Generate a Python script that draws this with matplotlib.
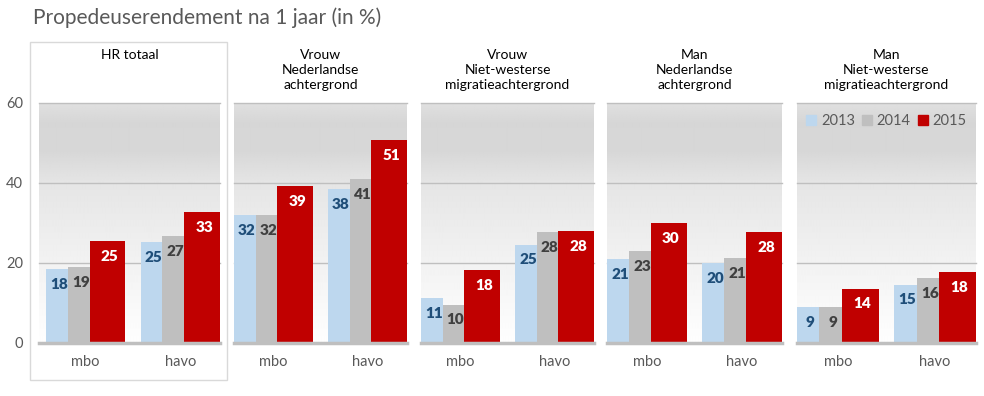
import matplotlib
matplotlib.use("Agg")
import matplotlib.pyplot as plt
import numpy as np

plt.rcParams["font.family"] = ["Lato", "DejaVu Sans"]

# data (percentages)
categories = ["mbo", "havo"]
years = ["2013", "2014", "2015"]
panel_titles = [
    "HR totaal",
    "Vrouw\nNederlandse\nachtergrond",
    "Vrouw\nNiet-westerse\nmigratieachtergrond",
    "Man\nNederlandse\nachtergrond",
    "Man\nNiet-westerse\nmigratieachtergrond",
]
values_2013 = [[18.4, 25.2], [32.0, 38.4], [11.2, 24.6], [21.0, 20.0], [9.0, 14.6]]
values_2014 = [[19.0, 26.8], [32.0, 41.0], [9.6, 27.8], [23.0, 21.2], [9.0, 16.2]]
values_2015 = [[25.4, 32.8], [39.2, 50.8], [18.2, 28.0], [30.0, 27.8], [13.6, 17.8]]
yticks = [0, 20, 40, 60]

colors = ["#BDD7EE", "#BFBFBF", "#C00000"]
label_colors = ["#1F4E79", "#404040", "#FFFFFF"]
# bar extents relative to the category centre
bar_left = [-0.42, -0.19, 0.04]
bar_width = [0.23, 0.23, 0.38]

W, H = 984, 396
fig = plt.figure(figsize=(W / 100, H / 100), dpi=100)

# panel pixel extents (left, right)
panels_px = [(39, 220), (234, 407), (421, 594), (607, 782), (797, 976)]
top_px, bottom_px = 103, 343

# vertical background gradient
grad_y = np.linspace(0, 60, 240)
grad_v = np.interp(grad_y, [0, 20, 40, 48, 55, 60], [254, 242, 229, 215, 214, 224]) / 255.0
grad = np.repeat(grad_v[::-1, None], 2, axis=1)

series = [values_2013, values_2014, values_2015]
x = np.arange(len(categories))

for p, (l, r) in enumerate(panels_px):
    ax = fig.add_axes([l / W, 1 - bottom_px / H, (r - l) / W, (bottom_px - top_px) / H])
    x0 = -0.42 - (7 / 94 if p == 0 else 0)
    ax.set_xlim(x0, 1.42)
    ax.set_ylim(0, 60)
    ax.imshow(grad, extent=[x0, 1.42, 0, 60], aspect="auto", cmap="gray",
              vmin=0, vmax=1, zorder=0, interpolation="bilinear")
    for yv in yticks[1:]:
        ax.axhline(yv, color="#BFBFBF", lw=1, zorder=1, clip_on=False)
    for s in range(3):
        vals = series[s][p]
        bars = ax.bar(x + bar_left[s], vals, width=bar_width[s], align="edge",
                      color=colors[s], zorder=2, linewidth=0)
        for b, v in zip(bars, vals):
            ax.annotate(f"{v:.0f}", (b.get_x() + b.get_width() / 2, v),
                        xytext=(1.5, -11), textcoords="offset points",
                        ha="center", va="center", fontsize=11, fontweight="heavy",
                        color=label_colors[s], zorder=3)
    ax.axhline(0, color="#BFBFBF", lw=2.5, zorder=4, clip_on=False)
    for sp in ax.spines.values():
        sp.set_visible(False)
    ax.set_xticks(x)
    ax.set_xticklabels(categories, fontsize=10.5, color="#595959")
    ax.tick_params(axis="x", length=0, pad=9)
    if p == 0:
        ax.set_yticks(yticks)
        ax.tick_params(axis="y", length=0, pad=11.5, labelsize=10.5, labelcolor="#595959")
    else:
        ax.set_yticks([])
    fig.text((l + r) / 2 / W, 1 - 49 / H, panel_titles[p], ha="center", va="top",
             fontsize=10, color="#000000", linespacing=1.3)
    if p == 4:
        handles = [plt.Rectangle((0, 0), 1, 1, color=c) for c in colors]
        ax.legend(handles, years, loc="center", bbox_to_anchor=(0.5, 0.925), ncol=3,
                  frameon=False, handlelength=0.7, handleheight=0.7, handletextpad=0.3,
                  columnspacing=0.5, fontsize=10.5, labelcolor="#595959")

# frame around the total panel
fig.add_artist(plt.Rectangle((30 / W, 1 - 380 / H), 197 / W, 338 / H, fill=False,
                             edgecolor="#D9D9D9", lw=1, transform=fig.transFigure))

fig.text(33 / W, 1 - 18 / H, "Propedeuserendement na 1 jaar (in %)", ha="left", va="center",
         fontsize=15, color="#595959")

fig.savefig("out.png", dpi=100)
